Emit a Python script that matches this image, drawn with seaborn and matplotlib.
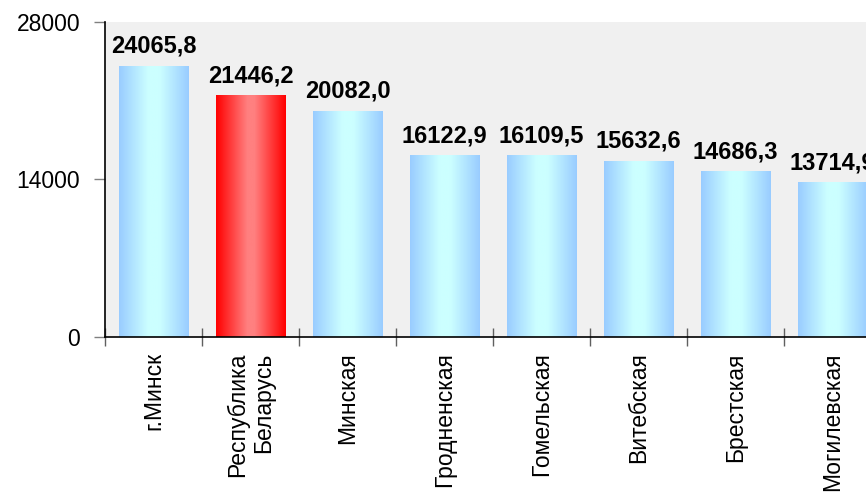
import numpy as np
import matplotlib
matplotlib.use('Agg')
import matplotlib.pyplot as plt
from matplotlib.colors import LinearSegmentedColormap
import seaborn as sns

regions = ['г.Минск', 'Республика\nБеларусь', 'Минская', 'Гродненская',
           'Гомельская', 'Витебская', 'Брестская', 'Могилевская']
values = [24065.8, 21446.2, 20082.0, 16122.9, 16109.5, 15632.6, 14686.3, 13714.9]
highlight = 'Республика\nБеларусь'
y_ticks = [0, 14000, 28000]

sns.set_style('white')
plt.rcParams['font.family'] = ['Liberation Sans', 'DejaVu Sans']
plt.rcParams['text.color'] = 'black'
plt.rcParams['xtick.color'] = 'black'
plt.rcParams['ytick.color'] = 'black'

blue_cm = LinearSegmentedColormap.from_list(
    'bl', [(0, '#99CCFF'), (0.42, '#CCFFFF'), (0.58, '#CCFFFF'), (1, '#99CCFF')])
red_cm = LinearSegmentedColormap.from_list(
    'rd', [(0, '#FF0000'), (0.45, '#FF8080'), (0.55, '#FF8080'), (1, '#FF0000')])

fig = plt.figure(figsize=(8.66, 4.94), dpi=100)
ax = fig.add_axes([105 / 866, 157 / 494, 776 / 866, 315 / 494])
ax.set_facecolor('#F0F0F0')

sns.barplot(x=regions, y=values, color='#99CCFF', width=0.72, ax=ax)

# horizontal gradient fill for each bar
grad = np.linspace(0, 1, 256).reshape(1, -1)
for patch, name in zip(ax.patches, regions):
    x0, y0 = patch.get_x(), patch.get_y()
    w, h = patch.get_width(), patch.get_height()
    cm = red_cm if name == highlight else blue_cm
    ax.imshow(grad, extent=[x0, x0 + w, y0, y0 + h], aspect='auto',
              cmap=cm, zorder=2, interpolation='bicubic')
    patch.set_visible(False)

for i, v in enumerate(values):
    ax.text(i, v + 750, f'{v:.1f}'.replace('.', ','), ha='center', va='bottom',
            fontsize=17, fontweight='bold', color='black', zorder=3)

ax.set_xlim(-0.5, len(regions) - 0.5)
ax.set_ylim(0, 28000)
ax.set_yticks(y_ticks)
ax.set_yticklabels([str(t) for t in y_ticks], fontsize=16.5)
ax.tick_params(axis='y', left=True, direction='out', length=8, width=1,
               color='#808080', labelcolor='black', pad=10)

ax.set_xticks(range(len(regions)))
ax.set_xticklabels(regions, rotation=90, fontsize=16.5, va='top', ha='center',
                   multialignment='right')
ax.tick_params(axis='x', which='major', bottom=True, length=0, pad=11,
               labelcolor='black')
ax.set_xticks(np.arange(-0.5, len(regions), 1), minor=True)
ax.tick_params(axis='x', which='minor', bottom=True, direction='inout',
               length=13, width=1, color='#606060')

for s in ['top', 'right']:
    ax.spines[s].set_visible(False)
for s in ['left', 'bottom']:
    ax.spines[s].set_color('black')
    ax.spines[s].set_linewidth(1.2)
ax.set_xlabel('')
ax.set_ylabel('')

fig.savefig('out.png', dpi=100)
